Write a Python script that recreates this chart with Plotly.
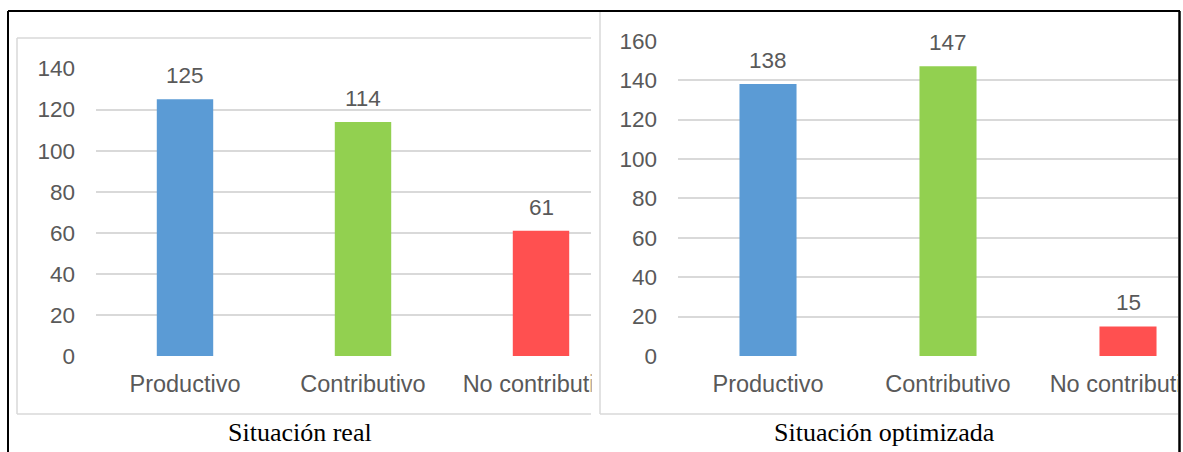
import plotly.graph_objects as go

# Values
categorias = ["Productivo", "Contributivo", "No contributivo"]
real = [125, 114, 61]
optimizada = [138, 147, 15]
colores = ["#5B9BD5", "#92D050", "#FF5050"]
ticks_real = [0, 20, 40, 60, 80, 100, 120, 140]
ticks_opt = [0, 20, 40, 60, 80, 100, 120, 140, 160]
titulos = ["Situación real", "Situación optimizada"]

W, H = 1183, 452
TXT = "#595959"
GRID = "#D9D9D9"
SANS = "Liberation Sans, Arial, sans-serif"
SERIF = "Liberation Serif, Times New Roman, serif"


def px(x):
    return x / W


def py(y):
    return 1 - y / H


fig = go.Figure()

fig.add_trace(go.Bar(x=[0, 1, 2], y=real, marker_color=colores,
                     marker_line_width=0, xaxis="x", yaxis="y",
                     showlegend=False, hoverinfo="skip"))
fig.add_trace(go.Bar(x=[0, 1, 2], y=optimizada, marker_color=colores,
                     marker_line_width=0, xaxis="x2", yaxis="y2",
                     showlegend=False, hoverinfo="skip"))

annotations = []
for xr, yr, vals in (("x", "y", real), ("x2", "y2", optimizada)):
    for i, v in enumerate(vals):
        annotations.append(dict(x=i, y=v, xref=xr, yref=yr, text=str(v),
                                showarrow=False, yshift=23.5, yanchor="middle",
                                font=dict(family=SANS, size=22.5, color=TXT)))

for cx, t in ((300, titulos[0]), (884.5, titulos[1])):
    annotations.append(dict(x=px(cx), y=py(432), xref="paper", yref="paper",
                            text=t, showarrow=False, xanchor="center",
                            yanchor="middle",
                            font=dict(family=SERIF, size=26, color="black")))

xcommon = dict(tickmode="array", tickvals=[0, 1, 2], ticktext=categorias,
               showgrid=False, zeroline=False, showline=False, ticks="",
               tickfont=dict(family=SANS, size=23.5, color=TXT),
               ticklabelstandoff=11, ticklabeloverflow="allow",
               fixedrange=True, automargin=False)
ycommon = dict(showgrid=True, gridcolor=GRID, gridwidth=1.5, zeroline=False,
               showline=False, ticks="", tickmode="array",
               tickfont=dict(family=SANS, size=22.5, color=TXT),
               ticklabelstandoff=20, fixedrange=True, automargin=False)

shapes = []


def rect(x0, y0, x1, y1):
    shapes.append(dict(type="rect", xref="paper", yref="paper",
                       x0=px(x0), x1=px(x1), y0=py(y1), y1=py(y0),
                       fillcolor="white", line_width=0, layer="above"))


def line(x0, y0, x1, y1, color, width):
    shapes.append(dict(type="line", xref="paper", yref="paper",
                       x0=px(x0), x1=px(x1), y0=py(y0), y1=py(y1),
                       line=dict(color=color, width=width), layer="above"))


# crop the overflowing category labels at the frame edges
rect(591.5, 360, 628, 410)
rect(1178, 0, 1183, 452)

# chart frames
line(17, 38, 591, 38, GRID, 1.5)
line(17, 38, 17, 414, GRID, 1.5)
line(17, 414, 591, 414, GRID, 1.5)
line(600, 11, 600, 414, GRID, 1.5)
line(600, 414, 1178, 414, GRID, 1.5)

# outer table border
line(8, 11, 1180, 11, "black", 2)
line(8, 11, 8, 452, "black", 2)
line(1179.5, 11, 1179.5, 452, "black", 2.5)

fig.update_layout(
    width=W, height=H,
    autosize=False,
    margin=dict(l=0, r=0, t=0, b=0, pad=0, autoexpand=False),
    paper_bgcolor="white", plot_bgcolor="white",
    bargap=0.683,
    xaxis=dict(domain=[px(96), px(591)], range=[-0.5, -0.5 + (591 - 96) / 178],
               anchor="y", **xcommon),
    yaxis=dict(domain=[py(356), py(68.5)], range=[0, 140],
               tickvals=ticks_real, anchor="x", **ycommon),
    xaxis2=dict(domain=[px(678), px(1179)], range=[-0.5, -0.5 + (1179 - 678) / 180],
                anchor="y2", **xcommon),
    yaxis2=dict(domain=[py(356), py(40.7)], range=[0, 160],
                tickvals=ticks_opt, anchor="x2", **ycommon),
    annotations=annotations,
    shapes=shapes,
)

fig.write_html("out.html")
